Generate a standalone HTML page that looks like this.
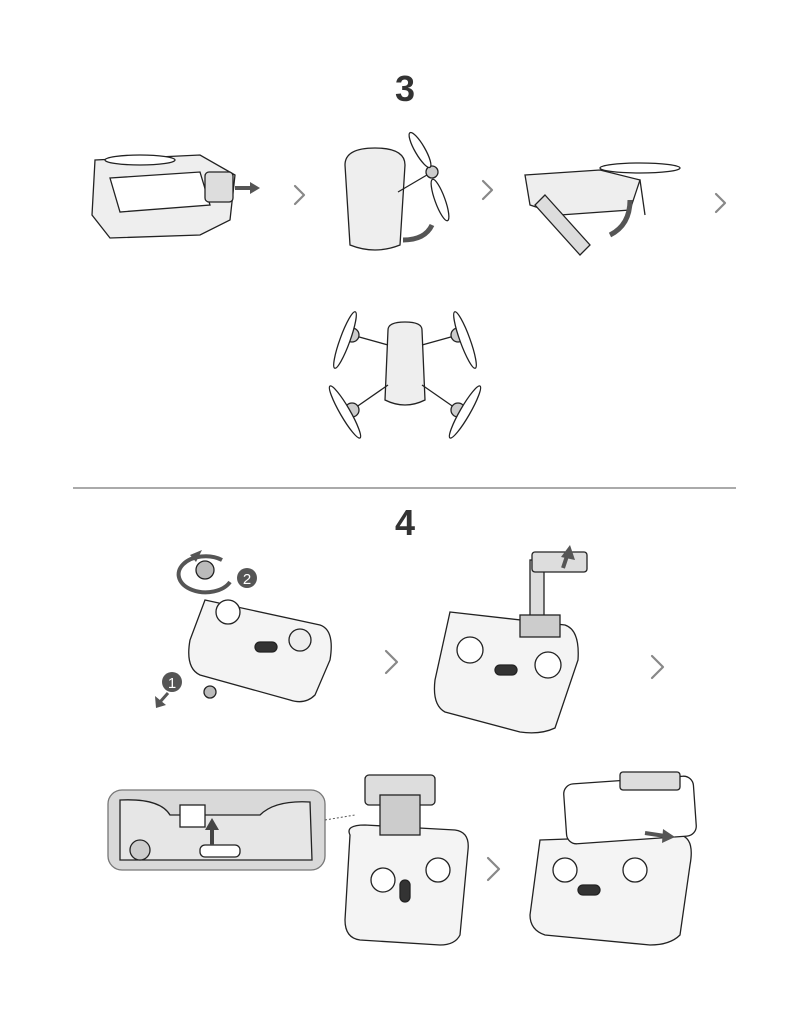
<!DOCTYPE html>
<html><head><meta charset="utf-8"><style>
html,body{margin:0;padding:0;background:#fff;}
svg{display:block;}
text{font-family:"Liberation Sans",sans-serif;}
</style></head><body>
<svg width="805" height="1024" viewBox="0 0 805 1024" xmlns="http://www.w3.org/2000/svg">
<g fill="none" stroke="#888" stroke-width="2.2" stroke-linecap="round" stroke-linejoin="round">
<polyline points="295,186 304,195 295,204"/>
<polyline points="483,181 492,190 483,199"/>
<polyline points="716,194 725,203 716,212"/>
<polyline points="386,651 397,662 386,673"/>
<polyline points="652,656 663,667 652,678"/>
<polyline points="488,858 499,869 488,880"/>
</g>
<text x="405" y="101" font-size="36" font-weight="bold" fill="#333" text-anchor="middle">3</text>
<text x="405" y="535" font-size="36" font-weight="bold" fill="#333" text-anchor="middle">4</text>
<line x1="73" y1="488" x2="736" y2="488" stroke="#777" stroke-width="1.2"/>

<g fill="#fff" stroke="#222" stroke-width="1.3">
<path d="M95,160 L200,155 L235,175 L230,220 L200,235 L110,238 L92,215 Z" fill="#eee"/>
<path d="M110,178 L200,172 L210,205 L120,212 Z"/>
<ellipse cx="140" cy="160" rx="35" ry="5"/>
<rect x="205" y="172" width="28" height="30" rx="4" fill="#ddd"/>
<path d="M345,165 Q345,148 375,148 Q405,148 405,165 L400,245 Q375,255 350,245 Z" fill="#eee"/>
<line x1="398" y1="192" x2="432" y2="172"/>
<circle cx="432" cy="172" r="6" fill="#ccc"/>
<ellipse cx="420" cy="150" rx="5" ry="20" transform="rotate(-30 420 150)"/>
<ellipse cx="440" cy="200" rx="5" ry="22" transform="rotate(-20 440 200)"/>
<path d="M525,175 L600,170 L640,180 L630,210 L560,215 L530,205 Z" fill="#eee"/>
<path d="M545,195 L590,245 L580,255 L535,205 Z" fill="#ddd"/>
<ellipse cx="640" cy="168" rx="40" ry="5"/>
<line x1="640" y1="180" x2="645" y2="215"/>
<path d="M388,330 Q388,322 405,322 Q422,322 422,330 L425,400 Q405,410 385,400 Z" fill="#eee"/>
<line x1="388" y1="345" x2="352" y2="335"/><line x1="422" y1="345" x2="458" y2="335"/>
<line x1="388" y1="385" x2="352" y2="410"/><line x1="422" y1="385" x2="458" y2="410"/>
<circle cx="352" cy="335" r="7" fill="#ccc"/><circle cx="458" cy="335" r="7" fill="#ccc"/>
<circle cx="352" cy="410" r="7" fill="#ccc"/><circle cx="458" cy="410" r="7" fill="#ccc"/>
<ellipse cx="345" cy="340" rx="5" ry="30" transform="rotate(20 345 340)"/>
<ellipse cx="465" cy="340" rx="5" ry="30" transform="rotate(-20 465 340)"/>
<ellipse cx="345" cy="412" rx="5" ry="30" transform="rotate(-30 345 412)"/>
<ellipse cx="465" cy="412" rx="5" ry="30" transform="rotate(30 465 412)"/>
<path d="M205,600 L320,625 Q335,630 330,660 L315,695 Q305,705 290,700 L200,675 Q185,668 190,640 Z" fill="#f4f4f4"/>
<circle cx="228" cy="612" r="12"/><circle cx="300" cy="640" r="11" fill="#eee"/>
<rect x="255" y="642" width="22" height="10" rx="5" fill="#333"/>
<circle cx="205" cy="570" r="9" fill="#bbb"/><circle cx="210" cy="692" r="6" fill="#bbb"/>
<path d="M450,612 L565,625 Q580,630 578,660 L555,728 Q540,735 520,732 L445,712 Q432,705 435,680 Z" fill="#f4f4f4"/>
<rect x="530" y="560" width="14" height="70" fill="#ddd"/>
<rect x="520" y="615" width="40" height="22" fill="#ccc"/>
<rect x="532" y="552" width="55" height="20" rx="3" fill="#ddd"/>
<circle cx="470" cy="650" r="13"/><circle cx="548" cy="665" r="13"/>
<rect x="495" y="665" width="22" height="10" rx="5" fill="#333"/>
<rect x="108" y="790" width="217" height="80" rx="14" fill="#d9d9d9" stroke="#777"/>
<path d="M120,800 Q160,798 170,815 L260,815 Q275,800 310,802 L312,860 L120,860 Z" fill="#e6e6e6"/>
<circle cx="140" cy="850" r="10" fill="#ccc"/>
<rect x="180" y="805" width="25" height="22" fill="#fff"/>
<rect x="200" y="845" width="40" height="12" rx="5" fill="#fff"/>
<path d="M350,835 Q345,825 365,825 L455,830 Q470,832 468,850 L460,935 Q455,945 440,945 L360,940 Q345,938 345,920 Z" fill="#f4f4f4"/>
<rect x="365" y="775" width="70" height="30" rx="4" fill="#ddd"/>
<rect x="380" y="795" width="40" height="40" fill="#ccc"/>
<circle cx="383" cy="880" r="12"/><circle cx="438" cy="870" r="12"/>
<rect x="400" y="880" width="10" height="22" rx="5" fill="#333"/>
<path d="M540,840 L680,835 Q695,838 690,865 L680,935 Q670,945 650,945 L545,935 Q530,930 530,915 Z" fill="#f4f4f4"/>
<rect x="565" y="780" width="130" height="60" rx="10" fill="#fff" transform="rotate(-4 630 810)"/>
<rect x="620" y="772" width="60" height="18" rx="3" fill="#ddd"/>
<circle cx="565" cy="870" r="12"/><circle cx="635" cy="870" r="12"/>
<rect x="578" y="885" width="22" height="10" rx="5" fill="#333"/>
</g>
<path d="M403,240 Q425,240 432,225" fill="none" stroke="#555" stroke-width="5"/>
<path d="M630,200 Q630,225 610,235" fill="none" stroke="#555" stroke-width="5"/>
<line x1="235" y1="188" x2="252" y2="188" stroke="#555" stroke-width="4"/>
<polygon points="250,182 260,188 250,194" fill="#555"/>
<line x1="645" y1="833" x2="665" y2="836" stroke="#555" stroke-width="4"/>
<polygon points="663,829 675,837 662,843" fill="#555"/>
<line x1="212" y1="845" x2="212" y2="828" stroke="#444" stroke-width="4"/>
<polygon points="205,830 212,818 219,830" fill="#444"/>
<line x1="325" y1="820" x2="355" y2="815" stroke="#555" stroke-dasharray="2,2"/>
<line x1="563" y1="568" x2="567" y2="556" stroke="#555" stroke-width="4"/>
<polygon points="561,557 570,545 575,560" fill="#555"/>
<circle cx="247" cy="578" r="10" fill="#555"/>
<text x="247" y="584" font-size="15" fill="#fff" text-anchor="middle">2</text>
<circle cx="172" cy="682" r="10" fill="#555"/>
<text x="172" y="688" font-size="15" fill="#fff" text-anchor="middle">1</text>
<line x1="168" y1="693" x2="160" y2="702" stroke="#555" stroke-width="3"/>
<polygon points="155,696 156,708 166,705" fill="#555"/>
<path d="M222,560 A27,18 0 1 0 230,582" fill="none" stroke="#555" stroke-width="4"/>
<polygon points="190,555 202,550 196,562" fill="#555"/>
</svg>
</body></html>
